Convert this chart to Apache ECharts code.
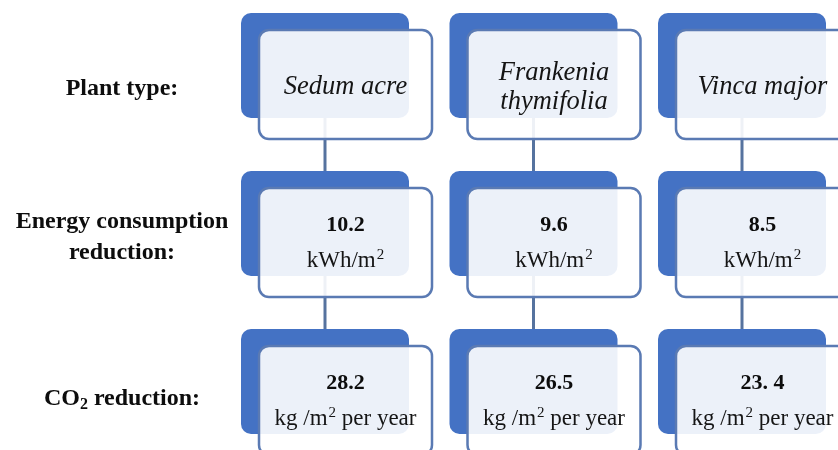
<!DOCTYPE html>
<html>
<head>
<meta charset="utf-8">
<script src="https://cdn.jsdelivr.net/npm/echarts@6/dist/echarts.min.js"></script>
<style>html,body{margin:0;padding:0;background:#fff}#c{width:838px;height:450px}</style>
</head>
<body>
<div id="c"></div>
<script>
const plants = ['Sedum acre', 'Frankenia\nthymifolia', 'Vinca major'];
const rowLabels = ['Plant type:', 'Energy consumption\nreduction:', 'CO2 reduction:'];
const energyValues = ['10.2', '9.6', '8.5'];
const energyUnit = ['kWh/m', '2', ''];
const co2Values = ['28.2', '26.5', '23. 4'];
const co2Unit = ['kg /m', '2', ' per year'];

const FONT = 'Liberation Serif';
const items = [];
plants.forEach((p, i) => {
  items.push({ value: [i, 0], main: p, sub: null });
  items.push({ value: [i, 1], main: energyValues[i], sub: energyUnit });
  items.push({ value: [i, 2], main: co2Values[i], sub: co2Unit });
});

const chart = echarts.init(document.getElementById('c'), null, { renderer: 'canvas' });
chart.setOption({
  animation: false,
  backgroundColor: '#ffffff',
  grid: { left: 241, top: 0, width: 625.5, height: 474, containLabel: false, outerBoundsMode: 'none' },
  xAxis: { type: 'category', data: plants.map((_, i) => i), show: false },
  yAxis: {
    type: 'category', inverse: true, data: rowLabels.map((_, i) => i),
    axisLine: { show: false }, axisTick: { show: false }, splitLine: { show: false },
    axisLabel: {
      align: 'center', margin: 119,
      formatter: function (v) {
        const i = +v;
        if (i === 0) return '{p0|' + rowLabels[0] + '}';
        if (i === 1) return rowLabels[1].split('\n').map(t => '{p1|' + t + '}').join('\n');
        return '{p2|CO}{s|2}{p2| reduction:}';
      },
      rich: {
        p0: { fontFamily: FONT, fontWeight: 'bold', fontSize: 24, color: '#0d0d0d', padding: [20, 0, 0, 0] },
        p1: { fontFamily: FONT, fontWeight: 'bold', fontSize: 24, lineHeight: 31, color: '#0d0d0d' },
        p2: { fontFamily: FONT, fontWeight: 'bold', fontSize: 24, color: '#0d0d0d', padding: [8, 0, 0, 0] },
        s: { fontFamily: FONT, fontWeight: 'bold', fontSize: 16, color: '#0d0d0d', padding: [20, 0, 0, 0] }
      }
    }
  },
  series: [{
    type: 'custom',
    data: items,
    renderItem: function (params, api) {
      const it = items[params.dataIndex];
      const row = api.value(1);
      const c = api.coord([api.value(0), row]);
      const s = api.size([1, 1]);
      const L = c[0] - s[0] / 2, T = c[1] - s[1] / 2;
      const children = [];
      if (row < 2) {
        children.push({ type: 'line', shape: { x1: L + 84, y1: T + 65, x2: L + 84, y2: T + s[1] + 16 },
          style: { stroke: '#56739f', lineWidth: 3 } });
      }
      children.push({ type: 'rect', shape: { x: L, y: T + 13, width: 168, height: 105, r: 10 },
        style: { fill: '#4472c4' } });
      children.push({ type: 'rect', shape: { x: L + 18, y: T + 30, width: 173, height: 109, r: 10 },
        style: { fill: 'rgba(255,255,255,0.9)', stroke: '#5a7ab3', lineWidth: 2.5 } });
      const cx = L + 104.5;
      if (row === 0) {
        children.push({ type: 'text', style: { x: cx, y: T + 30 + 57.5, text: it.main, align: 'center', verticalAlign: 'middle',
          font: 'italic 26.5px "' + FONT + '"', lineHeight: 29, fill: '#151515' } });
      } else {
        children.push({ type: 'text', style: { x: cx, y: T + 30 + 37, text: it.main, align: 'center', verticalAlign: 'middle',
          font: 'bold 22px "' + FONT + '"', fill: '#0d0d0d' } });
        const u = it.sub;
        children.push({ type: 'text', style: { x: cx, y: T + 30 + 73,
          text: '{u|' + u[0] + '}{sp|' + u[1] + '}' + (u[2] ? '{u|' + u[2] + '}' : ''),
          align: 'center', verticalAlign: 'middle',
          rich: {
            u: { fontFamily: FONT, fontSize: 23, fill: '#151515' },
            sp: { fontFamily: FONT, fontSize: 15, fill: '#151515', padding: [0, 0, 12, 1] }
          } } });
      }
      return { type: 'group', children: children };
    }
  }]
});
</script>
</body>
</html>
